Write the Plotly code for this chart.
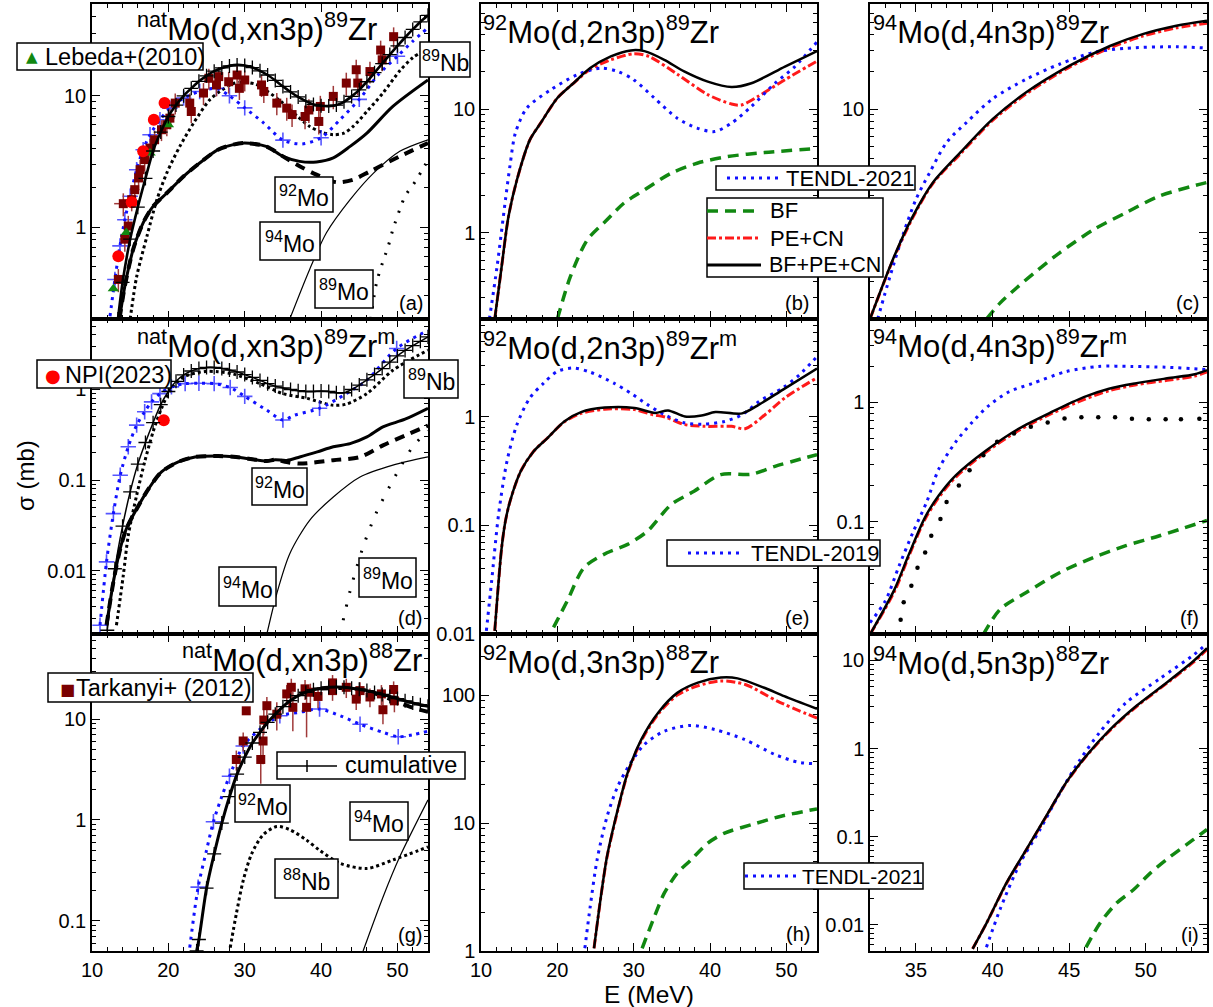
import math
import plotly.graph_objects as go

W, H = 1213, 1007
FONT = "Liberation Sans, Arial, sans-serif"

# ======================= DATA =======================
# ---- (a) natMo(d,xn3p)89Zr ----
a_cum_E = [13.4,14,15,16,17,18,19,20,21,22,23,24,25,26,27,28,29,30,31,32,33,34,35,36,37,38,39,40,41,42,43,44,45,46,47,48,49,50,51,52,53,54]
a_cum_s = [0.2,0.38,0.81,1.42,2.35,3.8,5.3,6.96,8.5,10.0,11.4,12.9,14.2,15.4,16.3,16.9,17.2,17.0,16.4,15.5,14.4,13.1,11.8,10.7,9.8,9.1,8.6,8.4,8.35,8.5,9.0,9.9,11.1,12.8,15.0,17.6,20.6,24.0,27.8,32.0,36.5,41.0]
a_nb_E = [15.0,15.85,17.2,18.5,19.8,21.5,23.3,25.4,26.75,28.5,30,31.5,33,35,37,38.5,40,41.6,43,44.2,46,48.1,50.3,52,54]
a_nb_s = [0.2,0.42,0.855,1.62,2.59,4.12,6.2,9.3,10.8,12.4,12.7,12.2,10.8,8.8,6.9,5.85,5.3,5.06,5.2,5.85,7.6,10.5,15.5,19.5,23]
a_tendl_E = [12.36,13.0,13.66,14.3,15.0,15.85,16.7,17.6,18.9,20.2,22.0,24.1,26.3,28,30,32.5,35,37.5,40,42.5,45,47.5,50,52,54]
a_tendl_s = [0.21,0.4,0.72,1.14,1.72,2.74,3.89,5.06,6.58,8.06,9.6,10.8,11.4,10.0,8.1,6.2,4.6,4.3,4.8,6.6,9.4,14.5,20,26,33]
a_ind_E = [13.6,14.3,15.4,16.7,18.0,19.8,22.0,24.1,26.5,28.5,30,32.8,35,37.2,39.4,41.6,43.8,46,49.4,54]
a_ind_s = [0.2,0.356,0.68,1.08,1.44,1.82,2.44,3.08,3.89,4.25,4.37,4.12,3.46,3.17,3.14,3.37,4.12,5.2,8.3,13.2]
a_92_E = [13.6,14.3,15.4,16.7,18.0,19.8,22.0,24.1,26.5,28.5,30,32.8,35,37.2,39.4,42,44.2,46.4,50.3,54]
a_92_s = [0.2,0.356,0.68,1.08,1.44,1.82,2.44,3.08,3.89,4.25,4.37,4.12,3.46,2.91,2.51,2.2,2.3,2.66,3.46,4.37]
a_94_E = [35.9,38.5,40.7,43.8,46.9,50.3,54]
a_94_s = [0.2,0.477,0.906,1.62,2.59,3.78,4.63]
a_89mo_E = [46.5,47.26,48.05,48.8,49.4,50.3,51.0,52.5,53.5,54]
a_89mo_s = [0.2,0.378,0.537,0.718,0.96,1.36,1.72,2.3,2.9,3.2]
a_tark_E = [13.45,14.1,14.3,14.75,15.2,15.6,16.1,16.3,16.9,17.6,18.2,19.1,19.8,20.2,20.9,22.8,23.0,24.6,25.3,26.3,26.6,27.9,29.0,29.3,30.0,32.2,32.5,34.2,35.5,36.2,37.9,38.4,39.7,39.9,41.6,43.3,44.6,44.8,46.4,47.8,48.0,49.5]
a_tark_s = [0.4,1.51,0.81,1.02,1.62,1.93,2.37,2.74,3.27,4.0,4.63,5.52,6.03,6.76,8.8,8.8,7.6,10.5,13.6,12.1,14.0,12.8,14.4,11.4,13.2,12.1,10.8,8.8,8.06,7.2,6.96,7.8,6.38,8.3,9.9,12.5,15.8,12.5,15.3,22.3,18.8,28.2]
a_tark_ds = [0.08,0.3,0.16,0.2,0.3,0.35,0.45,0.5,0.6,0.7,0.8,1.0,1.1,1.2,1.6,1.6,1.4,2.0,2.5,2.2,2.6,2.4,2.7,2.1,2.4,2.3,2.0,1.7,1.6,1.4,1.4,1.6,1.3,1.7,2.0,2.5,3.0,2.4,2.9,4.0,3.4,5.0]
a_tark_dE = [0.5,1.2,0.6,0.6,0.6,0.6,0.6,0.6,0.6,0.6,0.6,0.6,0.6,0.6,0.6,0.5,0.5,0.5,0.5,0.5,0.4,0.4,0.4,0.4,0.4,0.3,0.3,0.3,0.3,0.3,0.3,0.3,0.3,0.3,0.3,0.3,0.3,0.3,0.3,0.3,0.3,0.3]
a_npi_E = [13.45,15.2,16.7,18.1,19.5]
a_npi_s = [0.6,1.55,3.78,6.58,8.8]
a_leb_E = [12.8,14.5,17.6,20.0]
a_leb_s = [0.34,0.91,3.67,6.03]

# ---- (b) 92Mo(d,2n3p)89Zr ----
b_all_E = [11.8,12.7,13.6,14.7,16.4,17.8,20.0,22.1,24.3,27.0,29.6,31.4,34.0,36.6,39.7,42.8,45.4,49.8,54.0]
b_all_s = [0.2,0.53,1.35,2.67,5.64,7.7,12.3,16.2,21.5,26.7,29.9,29.5,25.1,20.2,16.7,15.1,16.2,22.1,29.5]
b_pe_E = [11.8,12.7,13.6,14.7,16.4,17.8,20.0,22.1,24.3,27.0,30.0,32.0,35.8,39.7,42.8,44.1,46.3,49.8,54.0]
b_pe_s = [0.2,0.53,1.35,2.67,5.64,7.7,12.3,16.2,21.0,25.1,28.1,26.7,19.0,13.1,11.0,10.8,12.7,17.3,24.5]
b_bf_E = [20.0,21.7,23.9,26.5,28.7,31.4,34.9,38.3,42.3,47.1,54.0]
b_bf_s = [0.2,0.44,0.87,1.27,1.73,2.22,3.03,3.65,4.13,4.45,4.8]
b_tendl_E = [11.1,12.1,13.2,13.8,14.5,16.0,19.1,22.6,25.7,27.9,30.0,32.7,35.7,38.3,40.6,42.8,45.4,48.5,51.1,54.0]
b_tendl_s = [0.2,0.53,1.84,3.5,6.4,10.2,14.3,19.0,21.5,20.2,17.3,12.3,8.45,7.02,6.58,7.7,10.5,16.2,22.1,35.0]

# ---- (c) 94Mo(d,4n3p)89Zr ----
c_all_E = [32,33.5,34.8,36.1,37.9,40.0,42.2,45.0,47.7,49.8,52.0,54]
c_all_s = [0.2,0.61,1.36,2.54,4.46,8.3,13.7,22.4,32.6,40.5,47.4,52]
c_pe_E = [32,33.5,34.8,36.1,37.9,40.0,42.2,45.0,47.7,49.8,52.0,54]
c_pe_s = [0.2,0.6,1.33,2.5,4.35,8.1,13.3,21.8,31.5,39,45.5,49.5]
c_bf_E = [39.6,40.5,41.6,42.7,44.4,46.6,48.7,50.9,53.5,54]
c_bf_s = [0.2,0.27,0.36,0.47,0.69,1.06,1.45,1.98,2.46,2.55]
c_tendl_E = [32.5,33.3,34.2,35.0,35.9,37.0,38.3,40.0,42.2,44.4,46.6,48.7,52.0,54]
c_tendl_s = [0.2,0.44,1.0,1.86,3.07,5.37,7.8,12.1,17.5,23.2,28.8,31.1,32,31.2]

# ---- (d) natMo(d,xn3p)89Zrm ----
d_cum_E = [12,13,14,15,16,17,18,19,20,21,22,23,24,25,26,27,28,29,30,31,32,33,34,35,36,37,38,39,40,41,42,43,44,45,46,47,48,49,50,51,52,53,54]
d_cum_s = [0.0022,0.0105,0.031,0.074,0.15,0.26,0.43,0.68,0.95,1.23,1.45,1.6,1.7,1.75,1.75,1.71,1.64,1.56,1.46,1.36,1.26,1.16,1.09,1.04,1.0,0.97,0.95,0.95,0.96,0.95,0.92,0.92,1.0,1.12,1.28,1.46,1.7,2.0,2.35,2.7,3.05,3.4,3.8]
d_nb_E = [13.2,14.1,14.75,15.85,16.9,18.0,19.1,20.4,22.2,24.8,26.5,28.5,32.0,35.0,38.1,41.6,43.3,46.0,49.4,54]
d_nb_s = [0.0025,0.0089,0.0245,0.068,0.159,0.341,0.617,1.03,1.4,1.58,1.57,1.48,1.16,0.9,0.8,0.67,0.69,0.9,1.63,2.72]
d_tendl_E = [11.05,11.9,12.8,13.7,14.75,15.85,16.9,17.8,18.9,20.4,22.2,24,26,28.1,30,32.9,35,36.5,39.8,43.3,46,49.9,54]
d_tendl_s = [0.0025,0.0125,0.0426,0.113,0.233,0.404,0.568,0.73,0.9,1.07,1.16,1.17,1.16,1.05,0.84,0.59,0.46,0.52,0.62,0.9,1.27,2.84,4.5]
d_ind_E = [11.9,12.8,13.7,14.5,15.85,17.4,19.1,21.3,23.5,26.5,28.5,30.5,32.9,34,35.5,37.2,39.5,41.6,43.8,46,48.1,51,54]
d_ind_s = [0.0025,0.0075,0.0175,0.029,0.048,0.08,0.123,0.159,0.18,0.184,0.181,0.172,0.162,0.168,0.165,0.18,0.205,0.233,0.253,0.3,0.387,0.47,0.62]
d_92_E = [11.9,12.8,13.7,14.5,15.85,17.4,19.1,21.3,23.5,26.5,28.5,30.5,32.9,34,35.5,37.2,41.6,45.1,48.1,51,54]
d_92_s = [0.0025,0.0075,0.0175,0.029,0.048,0.08,0.123,0.159,0.18,0.184,0.181,0.172,0.162,0.168,0.158,0.152,0.166,0.18,0.242,0.31,0.4]
d_94_E = [32.9,34.2,35.9,38.5,41.6,45.1,49.4,54]
d_94_s = [0.002,0.0056,0.0154,0.036,0.065,0.108,0.146,0.18]
d_89mo_E = [42.5,43.8,45.5,47.2,49.9,52.0,54]
d_89mo_s = [0.002,0.006,0.0183,0.043,0.118,0.233,0.35]
d_npi_E = [19.4]
d_npi_s = [0.458]

# ---- (e) 92Mo(d,2n3p)89Zrm ----
e_all_E = [11.8,12.7,13.2,13.8,15.2,16.9,18.7,20.9,23.1,26.2,30.1,32.8,34.5,36.7,38.9,40.7,44.2,46.4,49.5,54.0]
e_all_s = [0.0107,0.062,0.11,0.167,0.316,0.483,0.64,0.911,1.11,1.22,1.21,1.09,1.15,1.01,1.03,1.11,1.08,1.3,1.78,2.8]
e_pe_E = [11.8,12.7,13.2,13.8,15.2,16.9,18.7,20.9,23.1,26.2,30.1,32.5,34.1,36.7,39.3,42.8,44.6,47.2,49.8,54.0]
e_pe_s = [0.0107,0.062,0.11,0.167,0.316,0.483,0.64,0.9,1.08,1.18,1.17,1.05,1.0,0.85,0.82,0.82,0.78,1.05,1.5,2.3]
e_bf_E = [19.5,21.3,23.5,26.5,29.2,31.8,34.9,37.9,41.4,45.4,48.5,54.0]
e_bf_s = [0.0115,0.0202,0.041,0.056,0.067,0.0887,0.156,0.207,0.294,0.297,0.351,0.45]
e_tendl_E = [10.7,11.4,12.3,13.4,14.7,16.4,18.2,20.0,22.1,24.3,27.4,29.6,31.8,34.0,36.7,39.3,41.9,44.2,46.4,49.5,51.7,54.0]
e_tendl_s = [0.0107,0.031,0.126,0.39,0.85,1.5,2.05,2.63,2.83,2.59,2.05,1.66,1.3,1.05,0.88,0.86,0.91,1.05,1.39,1.85,2.45,3.6]

# ---- (f) 94Mo(d,4n3p)89Zrm ----
f_all_E = [32,33.6,34.5,35.6,36.5,37.6,39.6,41.7,43.9,46.0,47.6,49.3,51.4,53.2,54]
f_all_s = [0.0113,0.027,0.0516,0.109,0.166,0.244,0.396,0.6,0.834,1.11,1.3,1.44,1.59,1.72,1.86]
f_pe_E = [32,33.6,34.5,35.6,36.5,37.6,39.6,41.7,43.9,46.0,47.6,49.3,51.4,53.2,54]
f_pe_s = [0.0113,0.026,0.05,0.105,0.16,0.236,0.385,0.58,0.81,1.06,1.25,1.4,1.53,1.66,1.8]
f_bf_E = [39.4,40.5,42.2,44.4,46.6,48.7,50.9,54]
f_bf_s = [0.0113,0.0184,0.0254,0.0374,0.05,0.0628,0.076,0.102]
f_tendl_E = [32,33,33.9,34.8,35.7,36.5,37.6,38.7,39.8,41.1,42.6,44.8,46.9,49.1,51.3,53.5,54]
f_tendl_s = [0.0142,0.0216,0.0425,0.081,0.146,0.278,0.466,0.687,0.95,1.23,1.44,1.81,2.0,2.0,1.97,1.9,1.88]
f_t19_E = [33.7,34.0,34.2,34.7,35.1,35.6,36.0,36.6,37.0,37.8,38.5,39.4,40.3,41.4,42.5,43.6,44.7,45.8,46.9,48.0,49.1,50.2,51.3,52.3,53.5]
f_t19_s = [0.0113,0.015,0.021,0.029,0.041,0.055,0.076,0.105,0.146,0.201,0.269,0.36,0.466,0.547,0.623,0.679,0.733,0.75,0.75,0.75,0.73,0.72,0.72,0.72,0.73]

# ---- (g) natMo(d,xn3p)88Zr ----
g_cum_E = [23.7,24,25,26,27,28,29,30,31,32,33,34,35,36,37,38,39,40,41,42,43,44,45,46,47,48,49,50,51,52,53,54]
g_cum_s = [0.05,0.065,0.21,0.46,0.93,1.7,2.85,4.2,5.8,7.4,9.3,11.2,13.3,15.3,17.1,18.5,19.6,20.3,20.7,20.8,20.7,20.3,19.8,19.2,18.4,17.6,16.8,16.0,15.2,14.5,13.9,13.4]
g_92_E = [40,44,46,48,50,52,54]
g_92_s = [20.2,20.2,19.0,17.0,14.8,13.0,11.8]
g_tendl_E = [22.8,23.9,25.0,25.9,27.0,28.0,29.8,32.0,34.6,37.2,39.8,42.5,45.1,48.1,50.1,52,54]
g_tendl_s = [0.054,0.215,0.5,0.96,1.71,2.71,5.41,7.94,10.8,11.7,12.6,10.8,8.9,7.4,6.7,7.0,7.6]
g_nb_E = [28.1,28.9,29.8,30.9,32.4,34.2,35.9,38.1,39.8,42.5,46.0,49.4,54]
g_nb_s = [0.054,0.117,0.25,0.46,0.71,0.86,0.8,0.63,0.5,0.37,0.33,0.4,0.54]
g_94_E = [45.5,48.1,50.3,54]
g_94_s = [0.05,0.171,0.43,1.58]
g_tark_E = [28.9,29.8,30.2,32.1,32.4,32.5,32.9,34.2,35.5,36.1,36.3,37.9,38.1,38.6,39.6,41.5,41.5,43.3,44.6,45.1,46.4,47.9,48.1,49.5,49.6]
g_tark_s = [3.98,6.07,12.1,3.98,6.07,9.8,13.6,11.2,17.8,20.7,13.1,20,13.1,18.5,16.8,22.9,19.2,20.7,15.8,19.2,16.6,17.8,12.4,19.7,15.2]
g_tark_ds = [0.9,1.3,0.6,1.7,2.5,2.8,3.0,3.5,4.0,4.5,5.5,4.5,6.5,4.0,4.0,4.5,4.0,4.5,3.5,4.0,3.5,4.0,3.5,4.0,3.5]

# ---- (h) 92Mo(d,3n3p)88Zr ----
h_all_E = [24.8,25.7,26.5,27.9,29.2,31.0,33.2,35.7,38.4,41.4,43.6,47.1,49.7,54.0]
h_all_s = [1.05,2.66,5.47,12.7,24.7,45,72.8,104,125,137,135,114,98,78]
h_pe_E = [24.8,25.7,26.5,27.9,29.2,31.0,33.2,35.7,38.4,41.4,44.6,48.8,54.0]
h_pe_s = [1.05,2.66,5.4,12.5,24.3,44,71,100,118,129,121,89.7,66]
h_bf_E = [31.1,32.7,34.0,35.7,37.5,39.7,41.9,45.4,49.3,54.0]
h_bf_s = [1.05,1.85,2.83,4.06,5.15,6.97,8.34,9.7,11.3,12.9]
h_tendl_E = [23.6,24.3,25.2,26.5,27.9,29.6,31.4,34.0,37.5,40.6,44.5,48.5,51.5,54.0]
h_tendl_s = [1.05,2.22,5.15,11.2,19.3,29.5,41.1,52.2,57.9,53.8,45,34.3,29.9,29]

# ---- (i) 94Mo(d,5n3p)88Zr ----
i_all_E = [38.7,39.6,40.9,42.2,43.5,44.8,46.1,47.7,49.4,51.4,53.1,54]
i_all_s = [0.0053,0.0103,0.0295,0.071,0.17,0.41,0.82,1.66,3.06,5.66,9.8,13.8]
i_pe_E = [38.7,39.6,40.9,42.2,43.5,44.8,46.1,47.7,49.4,51.4,53.1,54]
i_pe_s = [0.0053,0.0103,0.029,0.07,0.168,0.405,0.81,1.63,3.0,5.55,9.5,13.4]
i_bf_E = [46.1,47.0,48.1,49.2,50.3,51.6,53.1,54]
i_bf_s = [0.0055,0.0103,0.0175,0.0248,0.0384,0.059,0.092,0.12]
i_tendl_E = [39.6,40.5,41.8,43.1,44.4,45.7,47.0,48.7,50.9,53.1,54]
i_tendl_s = [0.0055,0.015,0.05,0.12,0.315,0.74,1.53,3.3,6.18,11.5,15.5]

# ---- axes ----
panels = ["a", "b", "c", "d", "e", "f", "g", "h", "i"]
x_ranges = {0: [10, 54], 1: [10, 54], 2: [32, 54]}
y_ranges = {"a": [0.2, 50], "b": [0.2, 71], "c": [0.2, 71], "d": [0.002, 6], "e": [0.01, 8],
            "f": [0.0114, 5], "g": [0.05, 70], "h": [1, 300], "i": [0.005, 20]}
y_major = {"a": [1, 10], "b": [1, 10], "c": [1, 10], "d": [0.01, 0.1, 1], "e": [0.01, 0.1, 1],
           "f": [0.1, 1], "g": [0.1, 1, 10], "h": [1, 10, 100], "i": [0.01, 0.1, 1, 10]}
titles = {
    "a": "<sup>nat</sup>Mo(d,xn3p)<sup>89</sup>Zr",
    "b": "<sup>92</sup>Mo(d,2n3p)<sup>89</sup>Zr",
    "c": "<sup>94</sup>Mo(d,4n3p)<sup>89</sup>Zr",
    "d": "<sup>nat</sup>Mo(d,xn3p)<sup>89</sup>Zr<sup>m</sup>",
    "e": "<sup>92</sup>Mo(d,2n3p)<sup>89</sup>Zr<sup>m</sup>",
    "f": "<sup>94</sup>Mo(d,4n3p)<sup>89</sup>Zr<sup>m</sup>",
    "g": "<sup>nat</sup>Mo(d,xn3p)<sup>88</sup>Zr",
    "h": "<sup>92</sup>Mo(d,3n3p)<sup>88</sup>Zr",
    "i": "<sup>94</sup>Mo(d,5n3p)<sup>88</sup>Zr",
}

# ======================= LAYOUT GEOMETRY (pixels) =======================
COLS = [(92, 428), (481, 817), (870, 1207)]
ROWS = [(4, 319), (319, 634), (634, 951)]


def fx(p):
    return p / W


def fy(p):
    return 1 - p / H


fig = go.Figure()

BLUE = "#1010ff"
RED = "#ff1a1a"
GREEN = "#118811"
DRED = "#7a0000"


def ax(p):
    n = panels.index(p) + 1
    return ("x", "y") if n == 1 else ("x%d" % n, "y%d" % n)


def add(p, E, s, color="black", width=2.5, dash="solid", mode="lines", marker=None, shape="spline", **kw):
    xa, ya = ax(p)
    fig.add_trace(go.Scatter(x=E, y=s, mode=mode, xaxis=xa, yaxis=ya,
                             line=dict(color=color, width=width, dash=dash, shape=shape, smoothing=0.8),
                             marker=marker, showlegend=False, hoverinfo="skip", **kw))


TDOT = "3px,5px"
GDASH = "11px,7px"
RDD = "9px,3px,3px,3px"
KDASH = "10px,7px"

cross_k = dict(symbol="cross-thin", size=10, line=dict(color="black", width=1.3))


def cross_b(sizes):
    # "+" drawn only where the reference shows one (size 0 elsewhere)
    return dict(symbol="cross-thin", size=sizes, line=dict(color=BLUE, width=1.6))


S = 11
a_tendl_mk = [0, S, S, S, S, S, S, S, S, S, S, S, S, S, S, 0, S, 0, S, 0, S, 0, S, 0, 0]
d_tendl_mk = [S, S, S, S, S, S, S, S, S, S, S, S, S, S, S, 0, S, 0, S, 0, 0, S, 0]
g_tendl_mk = [0, S, 0, S, 0, S, S, 0, S, 0, S, 0, S, 0, S, 0, 0]

# ----- (a) -----
add("a", a_94_E, a_94_s, width=1.2)
add("a", a_89mo_E, a_89mo_s, width=3, dash="2px,9px")
add("a", a_92_E, a_92_s, width=4, dash=KDASH)
add("a", a_ind_E, a_ind_s, width=3)
add("a", a_nb_E, a_nb_s, width=3, dash="3px,3px")
add("a", a_tendl_E, a_tendl_s, color=BLUE, width=3, dash=TDOT, mode="lines+markers", marker=cross_b(a_tendl_mk))
xa, ya = ax("a")
fig.add_trace(go.Scatter(x=a_tark_E, y=a_tark_s, mode="markers", xaxis=xa, yaxis=ya, showlegend=False,
                         marker=dict(symbol="square", size=9, color=DRED),
                         error_y=dict(type="data", array=a_tark_ds, color="#a03a3a", thickness=1.5, width=0),
                         error_x=dict(type="data", array=a_tark_dE, color="#a03a3a", thickness=1.5, width=0)))
fig.add_trace(go.Scatter(x=a_leb_E, y=a_leb_s, mode="markers", xaxis=xa, yaxis=ya, showlegend=False,
                         marker=dict(symbol="triangle-up", size=10, color=GREEN)))
fig.add_trace(go.Scatter(x=a_npi_E, y=a_npi_s, mode="markers", xaxis=xa, yaxis=ya, showlegend=False,
                         marker=dict(symbol="circle", size=12, color="#ff0000")))
add("a", a_cum_E, a_cum_s, width=2.6, mode="lines+markers", marker=cross_k)

# ----- (b) -----
add("b", b_bf_E, b_bf_s, color=GREEN, width=3.5, dash=GDASH)
add("b", b_pe_E, b_pe_s, color=RED, width=3, dash=RDD)
add("b", b_tendl_E, b_tendl_s, color=BLUE, width=3, dash=TDOT)
add("b", b_all_E, b_all_s, width=2.5)

# ----- (c) -----
add("c", c_bf_E, c_bf_s, color=GREEN, width=3.5, dash=GDASH)
add("c", c_pe_E, c_pe_s, color=RED, width=3, dash=RDD)
add("c", c_tendl_E, c_tendl_s, color=BLUE, width=3, dash=TDOT)
add("c", c_all_E, c_all_s, width=2.5)

# ----- (d) -----
add("d", d_94_E, d_94_s, width=1.2)
add("d", d_89mo_E, d_89mo_s, width=3, dash="2px,12px")
add("d", d_92_E, d_92_s, width=4, dash=KDASH)
add("d", d_ind_E, d_ind_s, width=3)
add("d", d_nb_E, d_nb_s, width=3, dash="3px,3px")
add("d", d_tendl_E, d_tendl_s, color=BLUE, width=3, dash=TDOT, mode="lines+markers", marker=cross_b(d_tendl_mk))
xa, ya = ax("d")
fig.add_trace(go.Scatter(x=d_npi_E, y=d_npi_s, mode="markers", xaxis=xa, yaxis=ya, showlegend=False,
                         marker=dict(symbol="circle", size=12, color="#ff0000")))
add("d", d_cum_E, d_cum_s, width=1.5, mode="lines+markers", marker=cross_k)

# ----- (e) -----
add("e", e_bf_E, e_bf_s, color=GREEN, width=3.5, dash=GDASH)
add("e", e_pe_E, e_pe_s, color=RED, width=3, dash=RDD)
add("e", e_tendl_E, e_tendl_s, color=BLUE, width=3, dash=TDOT)
add("e", e_all_E, e_all_s, width=2.5)

# ----- (f) -----
add("f", f_bf_E, f_bf_s, color=GREEN, width=3.5, dash=GDASH)
add("f", f_pe_E, f_pe_s, color=RED, width=3, dash=RDD)
add("f", f_tendl_E, f_tendl_s, color=BLUE, width=3, dash=TDOT)
add("f", f_t19_E, f_t19_s, mode="markers", marker=dict(symbol="circle", size=4.5, color="black"))
add("f", f_all_E, f_all_s, width=2.5)

# ----- (g) -----
add("g", g_94_E, g_94_s, width=1.2)
add("g", g_nb_E, g_nb_s, width=3, dash="3px,3px")
add("g", g_tendl_E, g_tendl_s, color=BLUE, width=3, dash=TDOT, mode="lines+markers", marker=cross_b(g_tendl_mk))
add("g", g_92_E, g_92_s, width=4, dash=KDASH)
xa, ya = ax("g")
fig.add_trace(go.Scatter(x=g_tark_E, y=g_tark_s, mode="markers", xaxis=xa, yaxis=ya, showlegend=False,
                         marker=dict(symbol="square", size=9, color=DRED),
                         error_y=dict(type="data", array=g_tark_ds, color="#a03a3a", thickness=1.5, width=0)))
add("g", g_cum_E, g_cum_s, width=3, mode="lines+markers", marker=cross_k)

# ----- (h) -----
add("h", h_bf_E, h_bf_s, color=GREEN, width=3.5, dash=GDASH)
add("h", h_pe_E, h_pe_s, color=RED, width=3, dash=RDD)
add("h", h_tendl_E, h_tendl_s, color=BLUE, width=3, dash=TDOT)
add("h", h_all_E, h_all_s, width=2.5)

# ----- (i) -----
add("i", i_bf_E, i_bf_s, color=GREEN, width=3.5, dash=GDASH)
add("i", i_pe_E, i_pe_s, color=RED, width=3, dash=RDD)
add("i", i_tendl_E, i_tendl_s, color=BLUE, width=3, dash=TDOT)
add("i", i_all_E, i_all_s, width=2.5)

# ======================= AXES =======================
layout = dict(width=W, height=H, autosize=False,
              margin=dict(l=0, r=0, t=0, b=0, pad=0, autoexpand=False),
              paper_bgcolor="white", plot_bgcolor="white", showlegend=False,
              font=dict(family=FONT, size=20, color="black"))

for k, p in enumerate(panels):
    r, c = divmod(k, 3)
    n = k + 1
    xk = "xaxis" if n == 1 else "xaxis%d" % n
    yk = "yaxis" if n == 1 else "yaxis%d" % n
    xa_, ya_ = ax(p)
    major_x = 10 if c < 2 else 5
    minor_x = 2 if c < 2 else 1
    layout[xk] = dict(domain=[fx(COLS[c][0]), fx(COLS[c][1])], range=x_ranges[c], anchor=ya_,
                      automargin=False,
                      showline=True, linecolor="black", linewidth=1.5, mirror="allticks",
                      ticks="inside", ticklen=8, tickwidth=1.3, tickcolor="black",
                      tick0=0, dtick=major_x, showgrid=False, zeroline=False,
                      minor=dict(ticks="inside", ticklen=4, tickwidth=1, tickcolor="black", dtick=minor_x, tick0=0, showgrid=False),
                      showticklabels=(r == 2), tickfont=dict(size=20, family=FONT, color="black"))
    lo, hi = y_ranges[p]
    mins = []
    for e in range(math.floor(math.log10(lo)) - 1, math.ceil(math.log10(hi)) + 1):
        for m in range(2, 10):
            v = m * 10 ** e
            if lo < v < hi:
                mins.append(v)
    layout[yk] = dict(domain=[fy(ROWS[r][1]), fy(ROWS[r][0])], type="log",
                      range=[math.log10(lo), math.log10(hi)], anchor=xa_, automargin=False,
                      showline=True, linecolor="black", linewidth=1.5, mirror="allticks",
                      ticks="inside", ticklen=8, tickwidth=1.3, tickcolor="black",
                      tickmode="array", tickvals=y_major[p], ticktext=["%g" % v for v in y_major[p]],
                      minor=dict(ticks="inside", ticklen=4, tickwidth=1, tickcolor="black", tickmode="array", tickvals=mins, showgrid=False),
                      showgrid=False, zeroline=False, tickfont=dict(size=20, family=FONT, color="black"))

shapes = []
annots = []


def box(x0, y0, x1, y1):
    shapes.append(dict(type="rect", xref="paper", yref="paper", x0=fx(x0), x1=fx(x1), y0=fy(y1), y1=fy(y0),
                       line=dict(color="black", width=1.5), fillcolor="white", layer="above"))


def seg(x0, y0, x1, y1, color="black", width=2.5, dash="solid"):
    shapes.append(dict(type="line", xref="paper", yref="paper", x0=fx(x0), x1=fx(x1), y0=fy(y0), y1=fy(y1),
                       line=dict(color=color, width=width, dash=dash), layer="above"))


def text(x, y, t, size=22, xanchor="left", yanchor="middle", color="black", family=FONT, angle=0):
    annots.append(dict(x=fx(x), y=fy(y), xref="paper", yref="paper", text=t, showarrow=False,
                       xanchor=xanchor, yanchor=yanchor, textangle=angle,
                       font=dict(size=size, color=color, family=family)))


# panel titles (left x, cap-centre y)
title_pos = {"a": (137, 27), "b": (483, 30), "c": (873, 30), "d": (137, 344), "e": (483, 346),
             "f": (873, 344), "g": (182, 658), "h": (483, 660), "i": (873, 661)}
for p in panels:
    x, y = title_pos[p]
    text(x - 2, y, titles[p], size=31)

# panel tags
tag_pos = {"a": (425, 303), "b": (811, 303), "c": (1201, 303), "d": (424, 618), "e": (811, 618),
           "f": (1201, 618), "g": (424, 935), "h": (812, 934), "i": (1201, 935)}
for p in panels:
    x, y = tag_pos[p]
    text(x, y, "(%s)" % p, size=20, xanchor="right")

# labelled boxes
labels = [
    ((420, 42, 470, 77), "<sup>89</sup>Nb"),
    ((275, 177, 333, 212), "<sup>92</sup>Mo"),
    ((260, 222, 320, 260), "<sup>94</sup>Mo"),
    ((315, 270, 373, 308), "<sup>89</sup>Mo"),
    ((404, 360, 458, 398), "<sup>89</sup>Nb"),
    ((252, 468, 307, 505), "<sup>92</sup>Mo"),
    ((219, 567, 276, 606), "<sup>94</sup>Mo"),
    ((359, 558, 416, 597), "<sup>89</sup>Mo"),
    ((235, 785, 290, 822), "<sup>92</sup>Mo"),
    ((350, 802, 408, 840), "<sup>94</sup>Mo"),
    ((275, 859, 338, 898), "<sup>88</sup>Nb"),
]
for (x0, y0, x1, y1), t in labels:
    box(x0, y0, x1, y1)
    text((x0 + x1) / 2, (y0 + y1) / 2 + 1, t, size=23, xanchor="center")

# legends
LF = 23.5
box(17, 43, 203, 70)
text(32, 57, "▲", size=15, color=GREEN, xanchor="center", family="DejaVu Sans")
text(43, 57, "Lebeda+(2010)", size=LF)

box(37, 360, 171, 388)
text(53, 375, "●", size=18, color="#ff0000", xanchor="center", family="DejaVu Sans")
text(63, 375, "NPI(2023)", size=LF)

box(48, 673, 253, 702)
text(67, 689, "■", size=16, color=DRED, xanchor="center", family="DejaVu Sans")
text(74, 688, "Tarkanyi+ (2012)", size=LF)

box(277, 752, 465, 779)
seg(277, 766, 337, 766, width=1.5)
seg(307, 760, 307, 772, width=1.5)
text(343, 765, "cumulative", size=LF)

box(716, 166, 915, 190)
seg(727, 178, 779, 178, color=BLUE, width=3, dash=TDOT)
text(784, 178, "TENDL-2021")

box(707, 198, 883, 277)
seg(707, 211, 761, 211, color=GREEN, width=3.5, dash=GDASH)
text(768, 211, "BF")
seg(707, 238, 761, 238, color=RED, width=3, dash=RDD)
text(768, 238, "PE+CN")
seg(707, 265, 761, 265, color="black", width=3)
text(767, 265, "BF+PE+CN", size=21.5)

box(667, 540, 880, 566)
seg(688, 553, 740, 553, color=BLUE, width=3, dash=TDOT)
text(749, 553, "TENDL-2019")

box(744, 863, 923, 889)
seg(745, 876, 797, 876, color=BLUE, width=3, dash=TDOT)
text(800, 876, "TENDL-2021", size=20.8)

# axis titles
text(25, 476, "σ (mb)", size=24, xanchor="center", angle=-90)
text(649, 994, "E (MeV)", size=24.5, xanchor="center")

layout["shapes"] = shapes
layout["annotations"] = annots
fig.update_layout(**layout)
fig.write_html("out.html", config={"displayModeBar": False},
               post_script="document.body.style.margin='0px';document.body.style.padding='0px';")
